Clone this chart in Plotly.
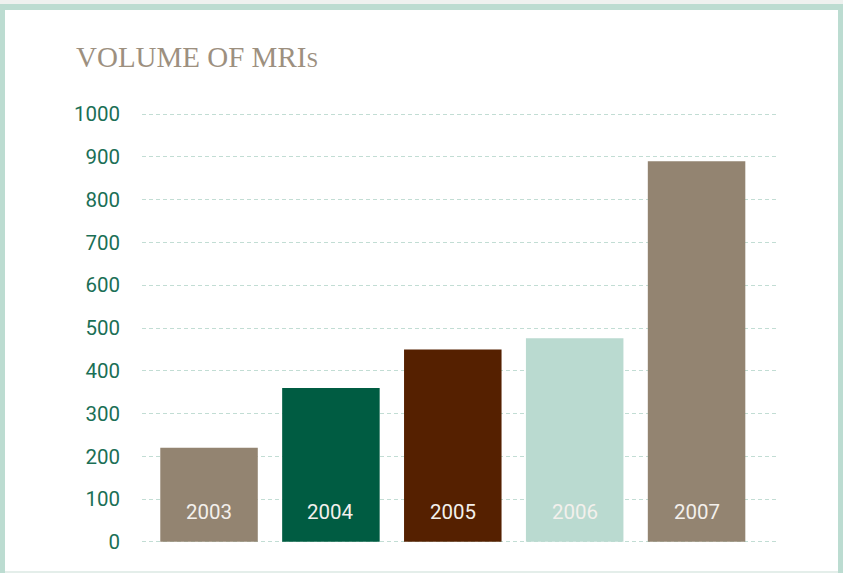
import plotly.graph_objects as go

years = ["2003", "2004", "2005", "2006", "2007"]
volumes = [220, 360, 450, 476, 890]
bar_colors = ["#938471", "#005c42", "#552000", "#badad0", "#938471"]
y_ticks = [0, 100, 200, 300, 400, 500, 600, 700, 800, 900, 1000]

W, H = 843, 573
L, R, T, B = 142, 66, 112, 29
PW, PH = W - L - R, H - T - B
Y0, Y1 = -5, 1005


def fx(px):
    return (px - L) / PW


def fy(py):
    return (H - B - py) / PH


fig = go.Figure()
fig.add_trace(go.Bar(
    x=years, y=volumes, marker=dict(color=bar_colors, line=dict(width=0)),
    width=0.8, hoverinfo="skip",
))

for i, yr in enumerate(years):
    fig.add_annotation(x=i, y=0, xref="x", yref="y", text=yr, showarrow=False,
                       yanchor="middle", yshift=30,
                       font=dict(family="Roboto", size=20.5, color="#f3f0ec"))

fig.add_annotation(xref="paper", yref="paper", x=fx(74), y=fy(75), xanchor="left", yanchor="bottom",
                   text="VOLUME OF MRI<span style='font-size:21px'>S</span>", showarrow=False,
                   font=dict(family="Liberation Serif", size=29, color="#9d907f"))

frame = "#bcdcd1"
shapes = [
    dict(type="rect", xref="paper", yref="paper", x0=fx(0), x1=fx(W), y0=fy(0), y1=fy(4),
         fillcolor="#eef1ef", line=dict(width=0), layer="below"),
    dict(type="rect", xref="paper", yref="paper", x0=fx(0), x1=fx(W), y0=fy(4), y1=fy(10),
         fillcolor=frame, line=dict(width=0), layer="below"),
    dict(type="rect", xref="paper", yref="paper", x0=fx(0), x1=fx(5), y0=fy(4), y1=fy(H),
         fillcolor=frame, line=dict(width=0), layer="below"),
    dict(type="rect", xref="paper", yref="paper", x0=fx(838), x1=fx(W), y0=fy(4), y1=fy(H),
         fillcolor=frame, line=dict(width=0), layer="below"),
    dict(type="rect", xref="paper", yref="paper", x0=fx(5), x1=fx(838), y0=fy(571), y1=fy(H),
         fillcolor="#e4eeea", line=dict(width=0), layer="below"),
]

fig.update_layout(
    width=W, height=H,
    margin=dict(l=L, r=R, t=T, b=B, pad=0),
    paper_bgcolor="white", plot_bgcolor="rgba(0,0,0,0)",
    showlegend=False, bargap=0.2,
    shapes=shapes,
    xaxis=dict(type="category", range=[-0.55, 4.66], showticklabels=False, showgrid=False,
               zeroline=False, showline=False, fixedrange=True),
    yaxis=dict(range=[Y0, Y1], tickvals=y_ticks, ticktext=[str(v) for v in y_ticks],
               showgrid=True, gridcolor="#c2ddd4", griddash="4px,3px", gridwidth=1.4,
               zeroline=False, showline=False, ticks="", ticklabelstandoff=21,
               tickfont=dict(family="Roboto", size=20.5, color="#1b6f56"), fixedrange=True),
)

fig.write_html("out.html", config={"displayModeBar": False},
               post_script="document.body.style.margin='0';document.body.style.overflow='hidden';")
